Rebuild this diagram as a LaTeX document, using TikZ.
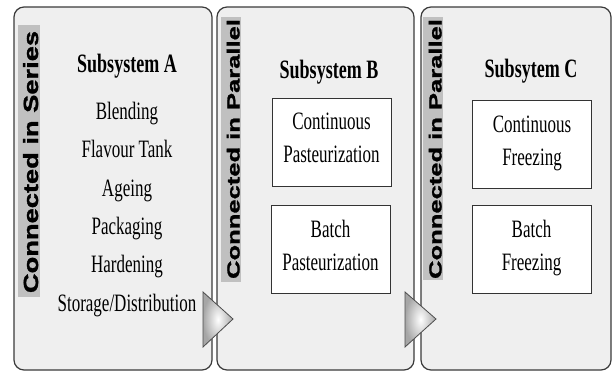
\documentclass[tikz,border=0pt]{standalone}
\usepackage{fontspec}
\newfontfamily\timesn[FakeStretch=0.68]{Liberation Serif}
\newfontfamily\arialser[FakeStretch=1.33, FakeBold=1.5]{Liberation Sans Bold}
\newfontfamily\arialpar[FakeStretch=1.46, FakeBold=1.5]{Liberation Sans Bold}
\definecolor{panelgray}{HTML}{EFEFEF}
\definecolor{bargray}{HTML}{C0C0C0}
\definecolor{edgegray}{HTML}{3A3A3A}
\begin{document}
\begin{tikzpicture}[x=1pt, y=-1pt,
  panel/.style={draw=edgegray, line width=1.2pt, fill=panelgray, rounded corners=10pt},
  bar/.style={fill=bargray},
  barlabel/.style={rotate=90, anchor=base, inner sep=0pt},
  heading/.style={anchor=base, font=\timesn\bfseries\fontsize{26.5}{30}\selectfont},
  item/.style={anchor=base, font=\timesn\fontsize{25}{30}\selectfont},
  unit/.style={draw=black!80, fill=white, line width=0.8pt, align=center, minimum width=119pt, minimum height=88pt, text depth=8pt, font=\timesn\fontsize{25}{33}\selectfont},
  pointer/.style={draw=black!70, line width=0.8pt, inner color=white, outer color=black!35}]
\useasboundingbox (0,0) rectangle (613,372);
\draw[panel] (14,7) rectangle (212,370);
\draw[panel] (217,7) rectangle (414,370);
\draw[panel] (421,7) rectangle (611,370);
\fill[bar] (18,25) rectangle (40,297);
\fill[bar] (221,17) rectangle (241,282);
\fill[bar] (423,17) rectangle (443,280);
\node[barlabel, font=\arialser\fontsize{20.5}{24}\selectfont] (serA) at (38,162) {Connected in Series};
\node[barlabel, font=\arialpar\fontsize{17.5}{20}\selectfont] (parB) at (239.5,149) {Connected in Parallel};
\node[barlabel, font=\arialpar\fontsize{17.5}{20}\selectfont] (parC) at (441.5,149) {Connected in Parallel};
\node[heading] (headA) at (127,72.5) {Subsystem A};
\node[heading] (headB) at (329,78) {Subsystem B};
\node[heading] (headC) at (531,77.5) {Subsytem C};
\node[item] (blend) at (127,119) {Blending};
\node[item] (flav) at (127,157.5) {Flavour Tank};
\node[item] (age) at (127,196) {Ageing};
\node[item] (pack) at (127,234) {Packaging};
\node[item] (hard) at (127,272.5) {Hardening};
\node[item] (store) at (127,311) {Storage/Distribution};
\node[unit] (contP) at (331.5,142) {Continuous\\Pasteurization};
\node[unit] (batchP) at (330.5,249.5) {Batch\\Pasteurization};
\node[unit] (contF) at (532,144.5) {Continuous\\Freezing};
\node[unit] (batchF) at (531.5,249.5) {Batch\\Freezing};
\shadedraw[pointer] (203,292) -- (233,319) -- (203,347) -- cycle;
\shadedraw[pointer] (405,292) -- (436,319) -- (405,347) -- cycle;
\end{tikzpicture}
\end{document}
